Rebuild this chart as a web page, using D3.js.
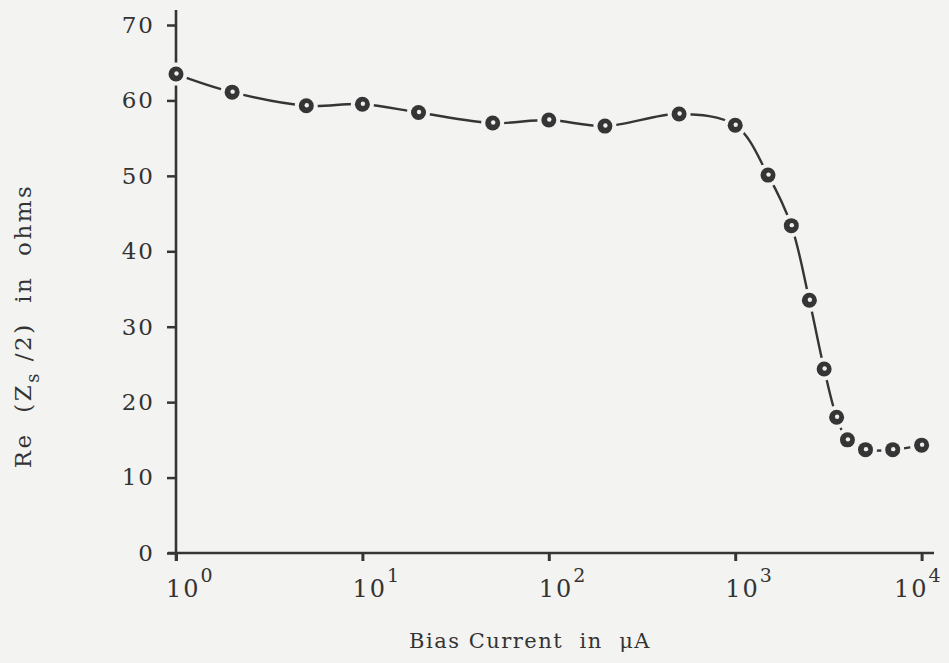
<!DOCTYPE html>
<html>
<head>
<meta charset="utf-8">
<script src="https://cdn.jsdelivr.net/npm/d3@7"></script>
<style>
  body { margin: 0; background: #f3f3f1; }
  svg { display: block; }
  text { font-family: "DejaVu Serif", serif; fill: #333; }
</style>
</head>
<body>
<svg id="chart"></svg>
<script>
// bias current (uA) and Re(Zs/2) in ohms
const current = [1, 2, 5, 10, 20, 50, 100, 200, 500, 1000, 1500, 2000, 2500, 3000, 3500, 4000, 5000, 7000, 10000];
const resist = [63.5, 61.1, 59.3, 59.5, 58.4, 57.0, 57.4, 56.6, 58.2, 56.7, 50.1, 43.4, 33.5, 24.4, 18.0, 15.0, 13.7, 13.7, 14.3];
const yTicks = [0, 10, 20, 30, 40, 50, 60, 70];
const xTicks = [1, 10, 100, 1000, 10000];

const svgWidth = 949, svgHeight = 663;
const margin = { top: 25, left: 176, bottom: 110, right: 27 };
const width = svgWidth - margin.left - margin.right;
const height = svgHeight - margin.top - margin.bottom;
const ink = '#353535';
const bg = '#f3f3f1';

const svg = d3.select('#chart')
    .attr('width', svgWidth)
    .attr('height', svgHeight);
const g = svg.append('g')
    .attr('transform', 'translate(' + margin.left + ',' + margin.top + ')');

const x = d3.scaleLog().domain([1, 10000]).range([0, 745.6]);
const y = d3.scaleLinear().domain([0, 70]).range([height, 0]);

// axes
const gY = g.append('g')
    .call(d3.axisLeft(y).tickValues(yTicks).tickSize(9).tickPadding(12).tickFormat(d3.format('d')));
gY.select('.domain').remove();
gY.selectAll('.tick line').attr('stroke', ink).attr('stroke-width', 2.5);
gY.selectAll('.tick text')
    .style('font-size', '23px')
    .attr('letter-spacing', '2px')
    .attr('fill', ink);
g.append('line')
    .attr('x1', 0).attr('x2', 0)
    .attr('y1', -15).attr('y2', height + 8)
    .attr('stroke', ink).attr('stroke-width', 2.6);

const gX = g.append('g')
    .attr('transform', 'translate(0,' + height + ')')
    .call(d3.axisBottom(x).tickValues(xTicks).tickSize(8).tickFormat(''));
gX.select('.domain').remove();
gX.selectAll('.tick line').attr('stroke', ink).attr('stroke-width', 3);
g.append('line')
    .attr('x1', -8).attr('x2', 758)
    .attr('y1', height).attr('y2', height)
    .attr('stroke', ink).attr('stroke-width', 2.6);

// x tick labels 10^n
const xl = g.selectAll('.xlab')
    .data(xTicks)
    .enter()
    .append('text')
    .attr('class', 'xlab')
    .attr('x', d => Math.min(x(d) - 10, width - 28))
    .attr('y', height + 44)
    .attr('text-anchor', 'start')
    .style('font-size', '24px')
    .attr('fill', ink);
xl.append('tspan').attr('letter-spacing', '2px').text('10');
xl.append('tspan')
    .attr('dy', -15)
    .style('font-size', '19px')
    .text(d => Math.round(Math.log10(d)));

// axis titles
svg.append('text')
    .attr('x', 530)
    .attr('y', 648)
    .attr('text-anchor', 'middle')
    .style('font-size', '21px')
    .attr('letter-spacing', '1.5px')
    .attr('xml:space', 'preserve')
    .attr('fill', ink)
    .text('Bias Current  in  \u03bcA');

const yt = svg.append('text')
    .attr('transform', 'translate(31,326) rotate(-90)')
    .attr('text-anchor', 'middle')
    .style('font-size', '23px')
    .attr('letter-spacing', '2.5px')
    .attr('xml:space', 'preserve')
    .attr('fill', ink);
yt.append('tspan').text('Re  (Z');
yt.append('tspan').attr('dy', 8).style('font-size', '18px').text('s');
yt.append('tspan').attr('dy', -8).text(' /2)  in  ohms');

// curve and points
const pts = current.map((c, i) => [c, resist[i]]);
const line = d3.line()
    .x(d => x(d[0]))
    .y(d => y(d[1]))
    .curve(d3.curveCatmullRom.alpha(0.5));
g.append('path')
    .datum(pts)
    .attr('d', line)
    .attr('fill', 'none')
    .attr('stroke', ink)
    .attr('stroke-width', 2.4);

// gap in the line around each point
g.selectAll('circle.gap')
    .data(pts)
    .enter()
    .append('circle')
    .attr('class', 'gap')
    .attr('cx', d => x(d[0]))
    .attr('cy', d => y(d[1]))
    .attr('r', 11.5)
    .attr('fill', bg);
g.selectAll('circle.dot')
    .data(pts)
    .enter()
    .append('circle')
    .attr('class', 'dot')
    .attr('cx', d => x(d[0]))
    .attr('cy', d => y(d[1]))
    .attr('r', 7.5)
    .attr('fill', ink);
g.selectAll('circle.ctr')
    .data(pts)
    .enter()
    .append('circle')
    .attr('class', 'ctr')
    .attr('cx', d => x(d[0]) + 0.5)
    .attr('cy', d => y(d[1]) - 0.5)
    .attr('r', 2.2)
    .attr('fill', '#eee');
</script>
</body>
</html>
